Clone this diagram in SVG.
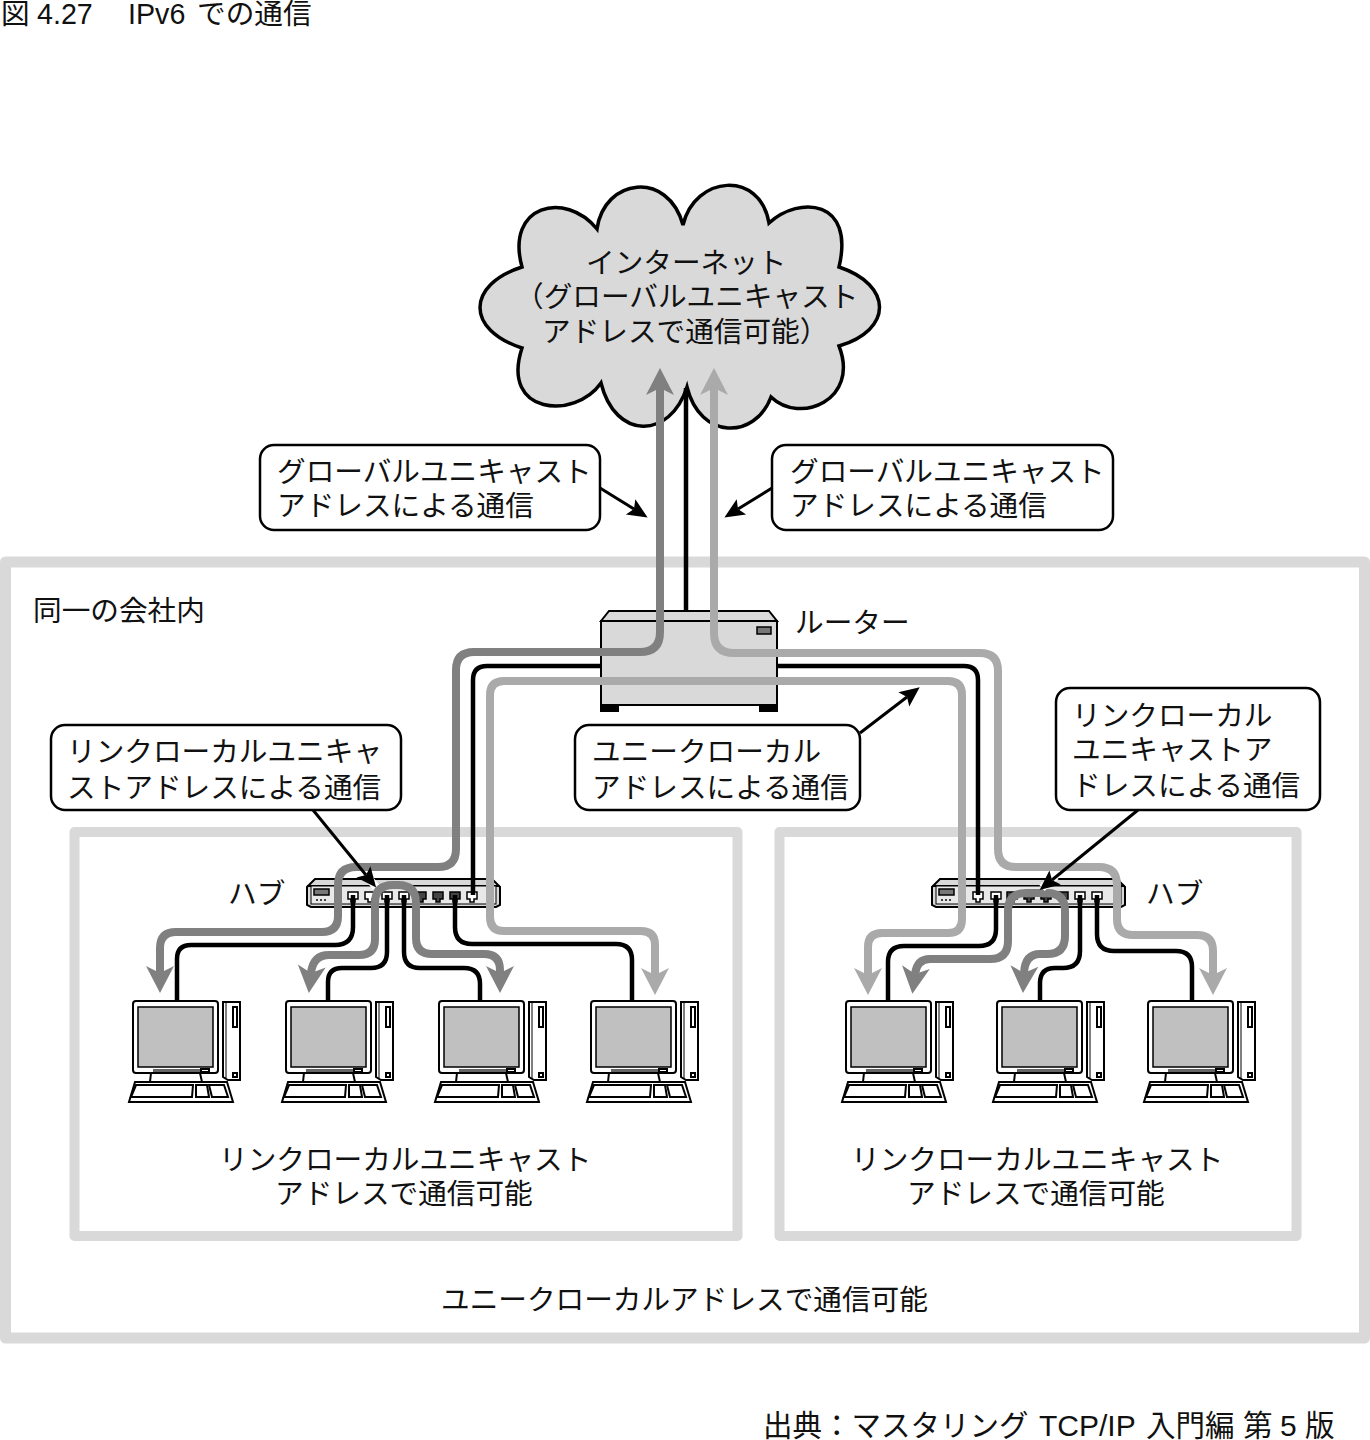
<svg xmlns="http://www.w3.org/2000/svg" xmlns:xlink="http://www.w3.org/1999/xlink" width="1370" height="1440" viewBox="0 0 1370 1440">
<style>
text{font-family:"Liberation Sans","Noto Sans CJK JP",sans-serif;font-size:28.65px;fill:#111}
.lat{font-size:30px}
.fr{fill:none;stroke:#d9d9d9;stroke-linejoin:round}
.box{fill:#fff;stroke:#000;stroke-width:2.5}
.dk{fill:none;stroke:#808080;stroke-width:8}
.lt{fill:none;stroke:#aaaaaa;stroke-width:8}
.bk{fill:none;stroke:#000;stroke-width:4.5}
.th{fill:none;stroke:#000;stroke-width:3}
.hal{fill:none;stroke:#fff;stroke-width:8}
.ln{fill:#fff;stroke:#000;stroke-width:2}
.gr{fill:#c0c0c0;stroke:#000;stroke-width:1.5}
</style>
<defs>
<marker id="ad" markerUnits="userSpaceOnUse" markerWidth="34" markerHeight="34" refX="7" refY="15" orient="auto-start-reverse" overflow="visible"><path d="M0,1 L27,15 L0,29 L7,15 z" fill="#808080"/></marker>
<marker id="al" markerUnits="userSpaceOnUse" markerWidth="34" markerHeight="34" refX="7" refY="15" orient="auto-start-reverse" overflow="visible"><path d="M0,1 L27,15 L0,29 L7,15 z" fill="#aaaaaa"/></marker>
<marker id="ak" markerUnits="userSpaceOnUse" markerWidth="24" markerHeight="20" refX="4" refY="9" orient="auto" overflow="visible"><path d="M0,0 L20,9 L0,18 L4,9 z" fill="#000"/></marker>
<g id="pc">
<rect class="ln" x="133" y="1001" width="85" height="72" rx="3"/>
<rect class="gr" x="138" y="1007" width="75" height="60"/>
<rect x="153" y="1069" width="48" height="4" fill="#666"/>
<rect class="ln" x="201" y="1069" width="8" height="3" stroke-width="1"/>
<path class="ln" d="M223,1002 H240 V1080 H228 L223,1077 Z"/>
<path d="M226,1002 V1078" fill="none" stroke="#000" stroke-width="1"/>
<rect class="ln" x="233" y="1007" width="4" height="20" stroke-width="1.5"/>
<rect class="ln" x="233" y="1073" width="4" height="4" stroke-width="1"/>
<path class="ln" d="M151,1073 H200 L202,1082 H150 Z"/>
<path class="ln" d="M135,1082 H227 L233,1102 H129 Z"/>
<path class="ln" d="M136,1085 H193 L192,1097 H131 Z" stroke-width="1.5"/>
<path class="ln" d="M196,1085 H207 L209,1097 H196 Z" stroke-width="1.5"/>
<path class="ln" d="M209,1085 H224 L228,1097 H212 Z" stroke-width="1.5"/>
</g>
<g id="hub">
<path d="M0,8 L8,0 H185 L193,8 V26 L189,28 H4 L0,26 Z" fill="#d9d9d9" stroke="#000" stroke-width="2"/>
<path d="M0,7 H193" stroke="#000" stroke-width="2" fill="none"/>
<rect x="4" y="7" width="185" height="18" fill="#e8e8e8" stroke="#000" stroke-width="1"/>
<rect x="7" y="10" width="15" height="6" fill="#777" stroke="#000" stroke-width="1.5"/>
<path d="M9,21h2M13,21h2M17,21h2" stroke="#444" stroke-width="2"/>
</g>
<path id="pt" d="M-5,13 H5 V20 H2 V23 H-2 V20 H-5 Z" fill="#fff" stroke="#000" stroke-width="1.5"/>
<path id="pd" d="M-5,13 H5 V20 H2 V23 H-2 V20 H-5 Z" fill="#444" stroke="#000" stroke-width="1.5"/>
</defs>
<rect width="1370" height="1440" fill="#fff"/>
<text id="title" y="24"><tspan x="1">図</tspan><tspan x="37">4.27</tspan><tspan x="128">IPv6</tspan><tspan x="197">での通信</tspan></text>
<g id="frames">
<rect class="fr" x="5.5" y="562" width="1359" height="776" stroke-width="11"/>
<rect class="fr" x="74.5" y="832" width="663" height="404" stroke-width="10"/>
<rect class="fr" x="779.5" y="832" width="517" height="404" stroke-width="10"/>
</g>
<g id="cloud">
<path d="M597,229 C604,178 668,170 683,225 C695,175 760,170 769,223 C800,195 855,200 839,267 C893,285 893,330 839,346 C860,400 800,425 771,397 C755,440 700,440 687,387 C670,440 615,440 601,383 C575,420 500,415 522,348 C466,330 466,285 522,267 C505,205 565,190 597,229 Z" fill="#d9d9d9" stroke="#000" stroke-width="3.5" stroke-linejoin="miter"/>
<text x="586" y="273">インターネット</text>
<text x="515" y="307">（グローバルユニキャスト</text>
<text x="542" y="342">アドレスで通信可能）</text>
</g>
<path id="uplink" class="bk" d="M686,388 V612"/>
<g id="router">
<path d="M601,621 L609,611 H769 L777,621 Z" fill="#d9d9d9" stroke="#000" stroke-width="2"/>
<rect x="601" y="621" width="176" height="84" fill="#d9d9d9" stroke="#000" stroke-width="2"/>
<rect x="600" y="705" width="19" height="7" fill="#000"/>
<rect x="759" y="705" width="19" height="7" fill="#000"/>
<rect x="757" y="627" width="14" height="7" fill="#777" stroke="#000" stroke-width="1.5"/>
<text x="795" y="633">ルーター</text>
</g>
<g id="hub-left">
<use xlink:href="#hub" href="#hub" x="307" y="879"/>
<use href="#pt" xlink:href="#pt" x="353" y="879"/><use href="#pt" xlink:href="#pt" x="370" y="879"/><use href="#pt" xlink:href="#pt" x="387" y="879"/><use href="#pt" xlink:href="#pt" x="404" y="879"/><use href="#pd" xlink:href="#pd" x="421" y="879"/><use href="#pd" xlink:href="#pd" x="438" y="879"/><use href="#pd" xlink:href="#pd" x="455" y="879"/><use href="#pt" xlink:href="#pt" x="472" y="879"/>
</g>
<g id="hub-right">
<use xlink:href="#hub" href="#hub" x="932" y="879"/>
<use href="#pt" xlink:href="#pt" x="978" y="879"/><use href="#pt" xlink:href="#pt" x="996" y="879"/><use href="#pd" xlink:href="#pd" x="1012" y="879"/><use href="#pd" xlink:href="#pd" x="1029" y="879"/><use href="#pd" xlink:href="#pd" x="1046" y="879"/><use href="#pd" xlink:href="#pd" x="1063" y="879"/><use href="#pt" xlink:href="#pt" x="1080" y="879"/><use href="#pt" xlink:href="#pt" x="1097" y="879"/>
</g>
<g id="pc1"><use href="#pc" xlink:href="#pc"/></g>
<g id="pc2"><use href="#pc" xlink:href="#pc" x="153"/></g>
<g id="pc3"><use href="#pc" xlink:href="#pc" x="306"/></g>
<g id="pc4"><use href="#pc" xlink:href="#pc" x="458"/></g>
<g id="pc5"><use href="#pc" xlink:href="#pc" x="713"/></g>
<g id="pc6"><use href="#pc" xlink:href="#pc" x="864"/></g>
<g id="pc7"><use href="#pc" xlink:href="#pc" x="1015"/></g>
<g id="connectors">
<path class="bk" d="M601,666 H487 Q473,666 473,680 V895"/>
<path class="bk" d="M777,666 H964 Q978,666 978,680 V895"/>
<path class="lt" d="M601,681 H504 Q490,681 490,695 V917 Q490,931 504,931 H641 Q655,931 655,945 V975" marker-end="url(#al)"/>
<path class="lt" d="M601,681 H948 Q962,681 962,695 V919 Q962,933 948,933 H882 Q868,933 868,947 V975" marker-end="url(#al)"/>
<path class="dk" d="M660,388 V632 Q660,652 640,652 H474 Q456,652 456,670 V849 Q456,867 438,867 H356 Q338,867 338,885 V916 Q338,932 322,932 H176 Q160,932 160,948 V973" marker-start="url(#ad)" marker-end="url(#ad)"/>
<path class="lt" d="M714,388 V633 Q714,653 734,653 H980 Q998,653 998,671 V849 Q998,867 1016,867 H1099 Q1117,867 1117,885 V919 Q1117,935 1133,935 H1197 Q1213,935 1213,951 V975" marker-start="url(#al)" marker-end="url(#al)"/>
<path class="bk" d="M353,895 V927 Q353,945 335,945 H191 Q177,945 177,959 V1000"/>
<path class="bk" d="M387,895 V952 Q387,968 371,968 H342 Q328,968 328,982 V1000"/>
<path class="bk" d="M404,895 V952 Q404,968 420,968 H464 Q480,968 480,984 V1000"/>
<path class="bk" d="M455,895 V927 Q455,944 472,944 H616 Q632,944 632,960 V1000"/>
<path class="dk" d="M500,973 V970 Q500,954 484,954 H432 Q416,954 416,938 V903 Q416,885 398,885 H393 Q375,885 375,903 V939 Q375,955 359,955 H329 Q313,955 311,973" marker-start="url(#ad)" marker-end="url(#ad)"/>
<path class="bk" d="M996,895 V929 Q996,946 979,946 H904 Q888,946 888,962 V1000"/>
<path class="bk" d="M1080,895 V951 Q1080,968 1063,968 H1055 Q1040,968 1040,983 V1000"/>
<path class="bk" d="M1097,895 V934 Q1097,951 1114,951 H1176 Q1192,951 1192,967 V1000"/>
<path class="dk" d="M915,974 Q917,959 930,959 H990 Q1008,959 1008,941 V911 Q1008,893 1026,893 H1047 Q1065,893 1065,911 V936 Q1065,954 1047,954 H1040 Q1025,954 1024,973" marker-start="url(#ad)" marker-end="url(#ad)"/>
<path class="th" d="M600,488 L634,509" marker-end="url(#ak)"/>
<path class="th" d="M772,488 L738,509" marker-end="url(#ak)"/>
<path class="hal" d="M366,875 L376,887"/>
<path class="th" d="M313,810 L366,875" marker-end="url(#ak)"/>
<path class="th" d="M860,733 L907,697" marker-end="url(#ak)"/>
<path class="hal" d="M1056,876 L1042,888"/>
<path class="th" d="M1138,810 L1052,880" marker-end="url(#ak)"/>
</g>
<g id="callout-global-left"><rect class="box" x="260" y="445" width="340" height="85" rx="14"/><text x="277" y="482">グローバルユニキャスト</text><text x="277" y="516">アドレスによる通信</text></g>
<g id="callout-global-right"><rect class="box" x="772" y="445" width="341" height="85" rx="14"/><text x="790" y="482">グローバルユニキャスト</text><text x="790" y="516">アドレスによる通信</text></g>
<g id="callout-link-left"><rect class="box" x="51" y="725" width="350" height="85" rx="14"/><text x="67" y="762">リンクローカルユニキャ</text><text x="67" y="798">ストアドレスによる通信</text></g>
<g id="callout-unique"><rect class="box" x="575" y="725" width="285" height="85" rx="14"/><text x="592" y="762">ユニークローカル</text><text x="592" y="798">アドレスによる通信</text></g>
<g id="callout-link-right"><rect class="box" x="1056" y="688" width="264" height="122" rx="14"/><text x="1072" y="726">リンクローカル</text><text x="1072" y="760">ユニキャストア</text><text x="1072" y="796">ドレスによる通信</text></g>
<g id="labels">
<text x="33" y="621">同一の会社内</text>
<text x="228" y="904">ハブ</text>
<text x="1146" y="904">ハブ</text>
<text x="219" y="1170">リンクローカルユニキャスト</text>
<text x="275" y="1204">アドレスで通信可能</text>
<text x="851" y="1170">リンクローカルユニキャスト</text>
<text x="907" y="1204">アドレスで通信可能</text>
<text x="441" y="1310">ユニークローカルアドレスで通信可能</text>
<text y="1436"><tspan x="763" font-size="29.5">出典：マスタリング</tspan><tspan x="1039" class="lat">TCP/IP</tspan><tspan x="1146" font-size="29.5">入門編</tspan><tspan x="1243" font-size="29.5">第</tspan><tspan x="1280" class="lat">5</tspan><tspan x="1305" font-size="29.5">版</tspan></text>
</g>
</svg>
